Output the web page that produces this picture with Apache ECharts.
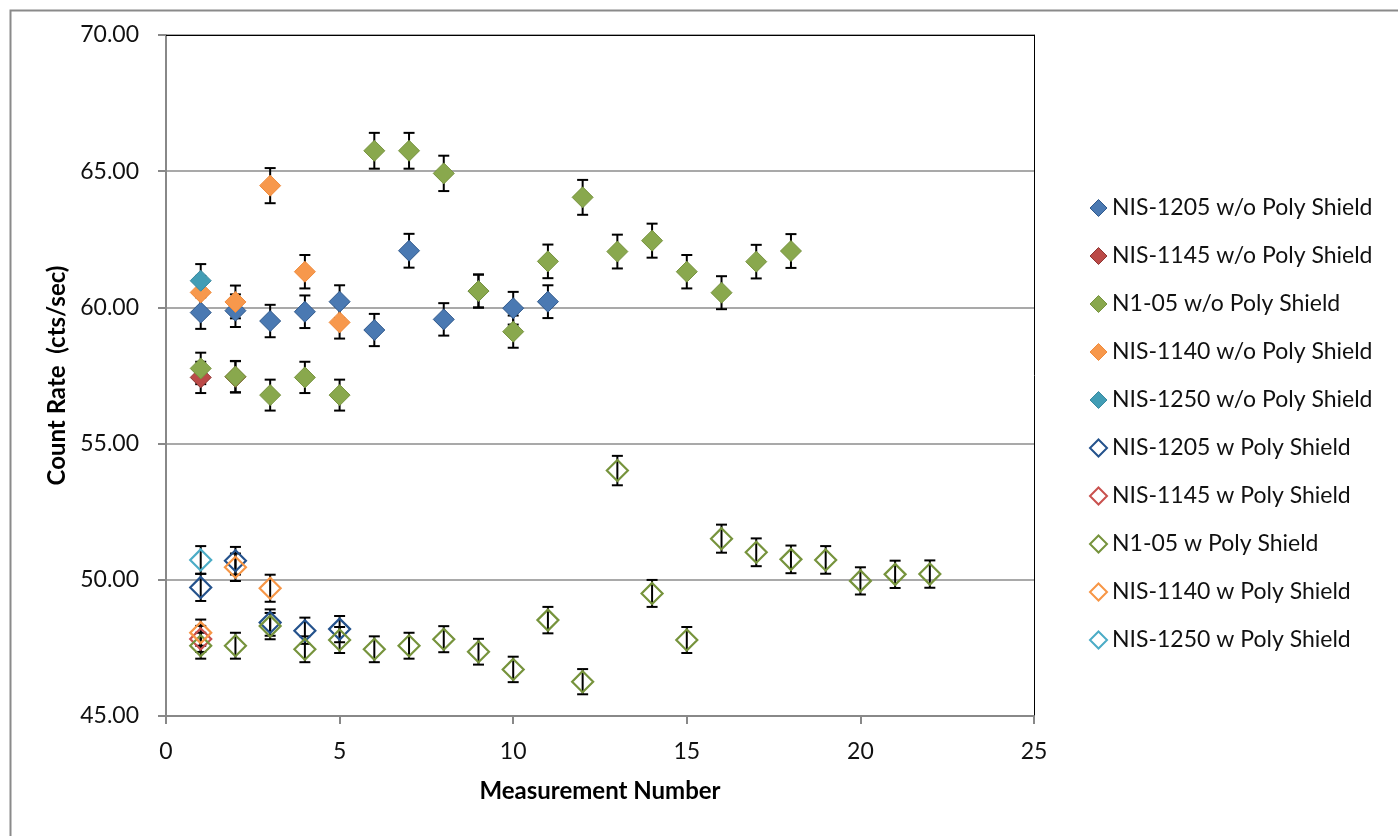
<!DOCTYPE html>
<html>
<head>
<meta charset="utf-8">
<script src="https://cdn.jsdelivr.net/npm/echarts@6/dist/echarts.min.js"></script>
<style>
html,body{margin:0;padding:0;background:#fff;}
#chart{width:1398px;height:836px;}
</style>
</head>
<body>
<div id="chart"></div>
<script>
// Measurement number of each value = index + 1
const seriesNames = [
  'NIS-1205 w/o Poly Shield',
  'NIS-1145 w/o Poly Shield',
  'N1-05 w/o Poly Shield',
  'NIS-1140 w/o Poly Shield',
  'NIS-1250 w/o Poly Shield',
  'NIS-1205 w Poly Shield',
  'NIS-1145 w Poly Shield',
  'N1-05 w Poly Shield',
  'NIS-1140 w Poly Shield',
  'NIS-1250 w Poly Shield'
];
const nis1205_wo = [59.81, 59.88, 59.50, 59.84, 60.21, 59.17, 62.08, 59.56, 60.60, 59.97, 60.21];
const nis1145_wo = [57.43, 57.45];
const n105_wo    = [57.76, 57.46, 56.78, 57.43, 56.78, 65.75, 65.75, 64.92, 60.60, 59.11, 61.69, 64.04, 62.05, 62.45, 61.31, 60.54, 61.68, 62.07];
const nis1140_wo = [60.55, 60.20, 64.47, 61.31, 59.45];
const nis1250_wo = [60.98];
const nis1205_w  = [49.72, 50.70, 48.43, 48.13, 48.19];
const nis1145_w  = [47.83];
const n105_w     = [47.58, 47.58, 48.30, 47.45, 47.79, 47.45, 47.58, 47.82, 47.36, 46.71, 48.52, 46.26, 54.01, 49.50, 47.79, 51.51, 51.01, 50.75, 50.73, 49.96, 50.20, 50.21];
const nis1140_w  = [48.06, 50.46, 49.69];
const nis1250_w  = [50.73];
// error bars: percentage of value (Excel "Percentage" error amount)
const errorPercent = 1;

const xTicks = [0, 5, 10, 15, 20, 25];
const yTicks = [45, 50, 55, 60, 65, 70];

const allValues = [nis1205_wo, nis1145_wo, n105_wo, nis1140_wo, nis1250_wo,
                   nis1205_w, nis1145_w, n105_w, nis1140_w, nis1250_w];
const styles = [
  {fill:'#4a79b2', stroke:'#30598c', hollow:false},
  {fill:'#bb4a47', stroke:'#8f3633', hollow:false},
  {fill:'#89a84d', stroke:'#77933f', hollow:false},
  {fill:'#f7984c', stroke:'#f08b3c', hollow:false},
  {fill:'#429db5', stroke:'#3a8aa0', hollow:false},
  {fill:'none', stroke:'#24528c', hollow:true},
  {fill:'none', stroke:'#c9514e', hollow:true},
  {fill:'none', stroke:'#76933c', hollow:true},
  {fill:'none', stroke:'#f79646', hollow:true},
  {fill:'none', stroke:'#4bacc6', hollow:true}
];

const FONT = 'Lato';

function errRender(params, api) {
  const x = api.value(0), lo = api.value(1), hi = api.value(2);
  const t = api.coord([x, hi]);
  const b = api.coord([x, lo]);
  const hw = 5.5;
  const st = {stroke:'#000', lineWidth:2};
  return {type:'group', children:[
    {type:'line', shape:{x1:t[0], y1:t[1], x2:b[0], y2:b[1]}, style:st},
    {type:'line', shape:{x1:t[0]-hw, y1:t[1], x2:t[0]+hw, y2:t[1]}, style:st},
    {type:'line', shape:{x1:b[0]-hw, y1:b[1], x2:b[0]+hw, y2:b[1]}, style:st}
  ]};
}

const series = [];
allValues.forEach((vals, i) => {
  const s = styles[i];
  series.push({
    type:'custom',
    name: seriesNames[i] + ' err',
    renderItem: errRender,
    data: vals.map((v, k) => [k + 1, v * (1 - errorPercent/100), v * (1 + errorPercent/100)]),
    encode: {x:0, y:[1,2]},
    silent:true,
    legendHoverLink:false
  });
  series.push({
    type:'scatter',
    name: seriesNames[i],
    symbol:'diamond',
    symbolSize: 21,
    data: vals.map((v, k) => [k + 1, v]),
    itemStyle: s.hollow
      ? {color:'rgba(255,255,255,0)', borderColor:s.stroke, borderWidth:2.2, opacity:1}
      : {color:s.fill, borderColor:s.stroke, borderWidth:1, opacity:1},
    emphasis:{disabled:true}
  });
});

const chart = echarts.init(document.getElementById('chart'), null, {renderer:'canvas'});
chart.setOption({
  animation:false,
  backgroundColor:'#fff',
  textStyle:{fontFamily:FONT},
  graphic:[{
    type:'rect', left:8, top:8, z:-10,
    shape:{x:0, y:0, width:1420, height:860},
    style:{fill:'none', stroke:'#8a8a8a', lineWidth:2}
  }],
  grid:{left:166, top:35, right:364, bottom:120, containLabel:false},
  legend:{
    orient:'vertical',
    left:1089, top:196, padding:0,
    itemWidth:17, itemHeight:17, itemGap:24,
    data: seriesNames.map((n, i) => ({
      name:n,
      icon:'diamond',
      itemStyle: styles[i].hollow
        ? {color:'rgba(255,255,255,0)', borderColor:styles[i].stroke, borderWidth:2}
        : {color:styles[i].fill, borderColor:styles[i].stroke, borderWidth:1}
    })),
    textStyle:{fontFamily:FONT, fontSize:23, color:'#111', lineHeight:24},
    selectedMode:false
  },
  xAxis:[{
    type:'value', min:xTicks[0], max:xTicks[xTicks.length-1], interval:5,
    name:'Measurement Number', nameLocation:'middle', nameGap:63,
    nameTextStyle:{fontFamily:FONT, fontSize:24, fontWeight:'bold', color:'#000'},
    axisLine:{show:true, onZero:false, lineStyle:{color:'#888', width:2}},
    axisTick:{show:true, inside:false, length:8, lineStyle:{color:'#888', width:2}},
    axisLabel:{fontFamily:FONT, fontSize:23, color:'#111', margin:24},
    splitLine:{show:false}
  },{
    type:'value', position:'top', min:xTicks[0], max:xTicks[xTicks.length-1], interval:5,
    axisLine:{show:true, onZero:false, lineStyle:{color:'#000', width:1}},
    axisTick:{show:false}, axisLabel:{show:false}, splitLine:{show:false}
  }],
  yAxis:[{
    type:'value', min:yTicks[0], max:yTicks[yTicks.length-1], interval:5,
    name:'Count Rate  (cts/sec)', nameLocation:'middle', nameGap:96, nameRotate:90,
    nameTextStyle:{fontFamily:FONT, fontSize:24, fontWeight:'bold', color:'#000'},
    axisLine:{show:true, onZero:false, lineStyle:{color:'#888', width:2}},
    axisTick:{show:true, inside:false, length:8, lineStyle:{color:'#888', width:2}},
    axisLabel:{fontFamily:FONT, fontSize:23, color:'#111', margin:27,
      formatter: v => v.toFixed(2)},
    splitLine:{show:true, lineStyle:{color:'#8c8c8c', width:1.6}}
  },{
    type:'value', position:'right', min:yTicks[0], max:yTicks[yTicks.length-1], interval:5,
    axisLine:{show:true, onZero:false, lineStyle:{color:'#000', width:1}},
    axisTick:{show:false}, axisLabel:{show:false}, splitLine:{show:false}
  }],
  series: series
});
</script>
</body>
</html>
